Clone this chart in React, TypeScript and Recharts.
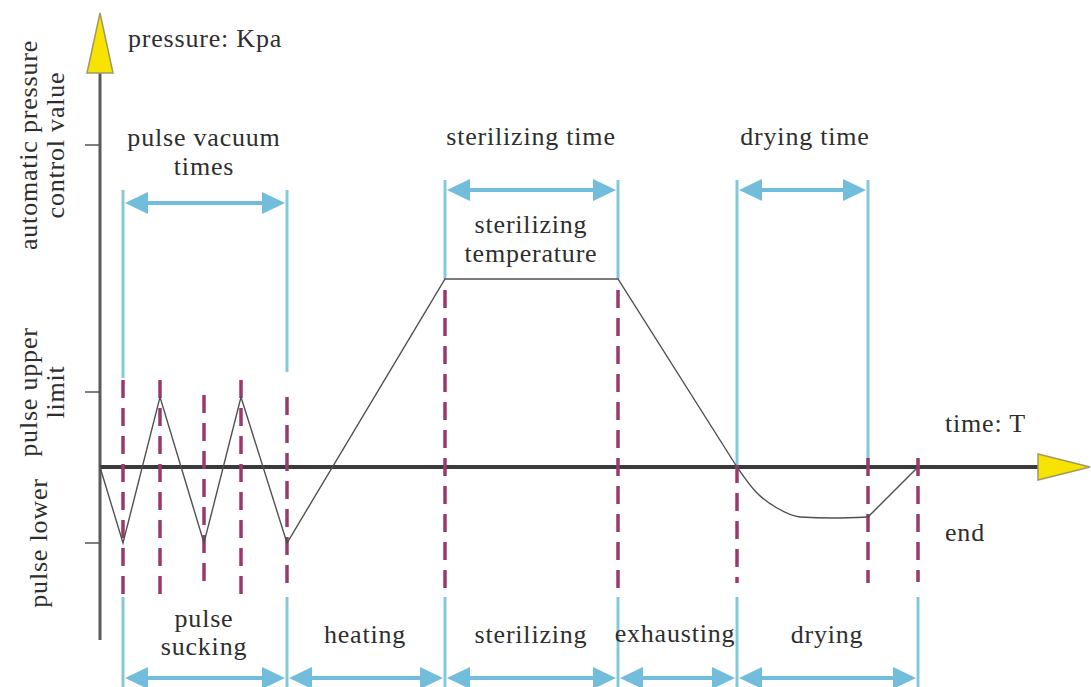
import { ComposedChart, Line, XAxis, YAxis, ReferenceLine, ReferenceDot } from 'recharts'

// time runs along x (arbitrary units), pressure along y (0 = where the time axis crosses)
const pulseTimes = [0, 2.3, 6.0, 10.4, 14.1, 18.7, 34.5, 51.8, 63.7]
const pulsePressure = [0, -7.6, 7.0, -7.6, 7.0, -7.6, 18.8, 18.8, 0]
const dryTimes = [63.7, 65.7, 67.7, 70.0, 73.3, 76.8]
const dryPressure = [0, -2.6, -4.1, -5.0, -5.1, -5.0]
const endTimes = [76.8, 81.8]
const endPressure = [-5.0, 0]

// y axis ticks
const yTicks = [-7.6, 7.5, 32.2]
const yTickLabels = [['pulse lower'], ['pulse upper', 'limit'], ['automatic pressure', 'control value']]

// dashed switch-over marks
const dashTimes = [2.3, 6.0, 10.4, 14.1, 18.7, 34.5, 51.8, 63.7, 76.8, 81.8]
const dashTop = [8.7, 8.7, 7.2, 8.7, 7.0, 17.7, 17.7, 0.2, 0.9, 0.9]
const dashBottom = [-12.9, -13.1, -11.8, -13.1, -11.7, -12.3, -12.3, -11.6, -11.6, -11.5]

// upper spans (pulse vacuum times / sterilizing time / drying time)
const topStart = [2.3, 34.5, 63.7]
const topEnd = [18.7, 51.8, 76.8]
const topArrowLevel = [26.4, 27.7, 27.7]
const topLineTop = [27.7, 28.7, 28.7]
const topLineBottomStart = [8.9, 18.8, 0]
const topLineBottomEnd = [9.5, 18.8, 0]

// lower phases
const phaseBounds = [2.3, 18.7, 34.5, 51.8, 63.7, 81.8]
const phaseLineTop = -13.0
const phaseArrowLevel = -21.1

// text annotations
const labelText = ['pressure: Kpa', 'pulse vacuum', 'times', 'sterilizing time', 'drying time', 'sterilizing', 'temperature', 'time: T', 'end', 'pulse', 'sucking', 'heating', 'sterilizing', 'exhausting', 'drying']
const labelT = [2.8, 10.4, 10.4, 43.1, 70.5, 43.1, 43.1, 84.5, 84.5, 10.4, 10.4, 26.5, 43.1, 57.5, 72.7]
const labelP = [42.0, 32.1, 29.2, 32.2, 32.2, 23.4, 20.5, 3.5, -7.4, -16.0, -18.8, -17.6, -17.6, -17.5, -17.6]
const labelStart = ['pressure: Kpa', 'time: T', 'end']

const FONT = '"Liberation Serif"'
const TEXT = '#2e2e2e'
const BLUE = '#84c8db'
const BLUE_ARROW = '#72bddb'
const MAGENTA = '#9a3a6c'
const YELLOW = '#f7e300'

const textStyle = { fontFamily: FONT, fontSize: 26, letterSpacing: 0.8 }

const toRows = (ts: number[], ps: number[]) => ts.map((t, i) => ({ t, p: ps[i] }))

const YTick = ({ y, payload }: any) => {
  const idx = yTicks.indexOf(payload.value)
  const lines = yTickLabels[idx] || []
  const xs = lines.length === 1 ? [38] : [28, 55]
  return (
    <g>
      {lines.map((s, i) => (
        <text
          key={i}
          x={xs[i]}
          y={y}
          dy="0.35em"
          transform={`rotate(-90 ${xs[i]} ${y})`}
          textAnchor="middle"
          style={textStyle}
          fill={TEXT}
        >
          {s}
        </text>
      ))}
    </g>
  )
}

// double headed arrow between two points on the same level
const DoubleArrow = (props: any) => {
  const { x1, x2, y1 } = props
  const a = Math.min(x1, x2) + 2
  const b = Math.max(x1, x2) - 2
  const len = 23
  const hw = 11
  return (
    <g>
      <line x1={a + len - 2} y1={y1} x2={b - len + 2} y2={y1} stroke={BLUE_ARROW} strokeWidth={4} />
      <polygon points={`${a},${y1} ${a + len},${y1 - hw} ${a + len},${y1 + hw}`} fill={BLUE_ARROW} />
      <polygon points={`${b},${y1} ${b - len},${y1 - hw} ${b - len},${y1 + hw}`} fill={BLUE_ARROW} />
    </g>
  )
}

const XAxisArrow = (props: any) => {
  const { x1, x2, y1 } = props
  const base = x2 - 52
  return (
    <g>
      <line x1={x1} y1={y1} x2={base + 2} y2={y1} stroke="#3a3a3a" strokeWidth={4} />
      <polygon points={`${base},${y1 - 13} ${x2},${y1} ${base},${y1 + 13}`} fill={YELLOW} stroke="#a09a60" strokeWidth={1.5} />
    </g>
  )
}

const YAxisArrow = (props: any) => {
  const { x1, y1, y2 } = props
  const base = y2 + 60
  return (
    <g>
      <line x1={x1} y1={y1} x2={x1} y2={base - 2} stroke="#5a5a5a" strokeWidth={3} />
      <polygon points={`${x1 - 13},${base} ${x1},${y2} ${x1 + 13},${base}`} fill={YELLOW} stroke="#a09a60" strokeWidth={1.5} />
    </g>
  )
}

export default function App() {
  return (
    <div style={{ position: 'absolute', left: 0, top: 0, background: '#fff' }}>
      <ComposedChart width={1091} height={687} margin={{ top: 0, right: 0, bottom: 0, left: 0 }}>
        <XAxis type="number" dataKey="t" domain={[0, 99.1]} hide allowDataOverflow />
        <YAxis
          type="number"
          domain={[-22, 46.7]}
          width={100}
          ticks={yTicks}
          tick={<YTick />}
          tickSize={15}
          tickLine={{ stroke: '#555', strokeWidth: 1.5 }}
          axisLine={false}
          allowDataOverflow
        />

        {/* upper spans */}
        {topStart.map((t, i) => (
          <ReferenceLine key={`ts${i}`} ifOverflow="visible" stroke={BLUE} strokeWidth={3}
            segment={[{ x: t, y: topLineBottomStart[i] }, { x: t, y: topLineTop[i] }]} />
        ))}
        {topEnd.map((t, i) => (
          <ReferenceLine key={`te${i}`} ifOverflow="visible" stroke={BLUE} strokeWidth={3}
            segment={[{ x: t, y: topLineBottomEnd[i] }, { x: t, y: topLineTop[i] }]} />
        ))}
        {topStart.map((t, i) => (
          <ReferenceLine key={`ta${i}`} ifOverflow="visible" shape={<DoubleArrow />}
            segment={[{ x: t, y: topArrowLevel[i] }, { x: topEnd[i], y: topArrowLevel[i] }]} />
        ))}

        {/* lower phases */}
        {phaseBounds.map((t, i) => (
          <ReferenceLine key={`pb${i}`} ifOverflow="visible" stroke={BLUE} strokeWidth={3}
            segment={[{ x: t, y: phaseLineTop }, { x: t, y: -22 }]} />
        ))}
        {phaseBounds.slice(0, -1).map((t, i) => (
          <ReferenceLine key={`pa${i}`} ifOverflow="visible" shape={<DoubleArrow />}
            segment={[{ x: t, y: phaseArrowLevel }, { x: phaseBounds[i + 1], y: phaseArrowLevel }]} />
        ))}

        {/* axes */}
        <ReferenceLine ifOverflow="visible" shape={<YAxisArrow />} segment={[{ x: 0, y: -17.3 }, { x: 0, y: 45.4 }]} />
        <ReferenceLine ifOverflow="visible" shape={<XAxisArrow />} segment={[{ x: 0, y: 0 }, { x: 99.0, y: 0 }]} />

        {/* dashed marks */}
        {dashTimes.map((t, i) => (
          <ReferenceLine key={`d${i}`} ifOverflow="visible" stroke={MAGENTA} strokeWidth={3.5} strokeDasharray="18 10"
            segment={[{ x: t, y: dashTop[i] }, { x: t, y: dashBottom[i] }]} />
        ))}

        <Line data={toRows(pulseTimes, pulsePressure)} dataKey="p" type="linear" stroke="#505050" strokeWidth={1.4} dot={false} isAnimationActive={false} />
        <Line data={toRows(dryTimes, dryPressure)} dataKey="p" type="monotone" stroke="#505050" strokeWidth={1.4} dot={false} isAnimationActive={false} />
        <Line data={toRows(endTimes, endPressure)} dataKey="p" type="linear" stroke="#505050" strokeWidth={1.4} dot={false} isAnimationActive={false} />

        {labelText.map((s, i) => (
          <ReferenceDot
            key={`l${i}`}
            x={labelT[i]}
            y={labelP[i]}
            r={0}
            ifOverflow="visible"
            shape={(p: any) => (
              <text
                x={p.cx}
                y={p.cy}
                textAnchor={labelStart.includes(s) ? 'start' : 'middle'}
                style={textStyle}
                fill={TEXT}
              >
                {s}
              </text>
            )}
          />
        ))}
      </ComposedChart>
    </div>
  )
}
